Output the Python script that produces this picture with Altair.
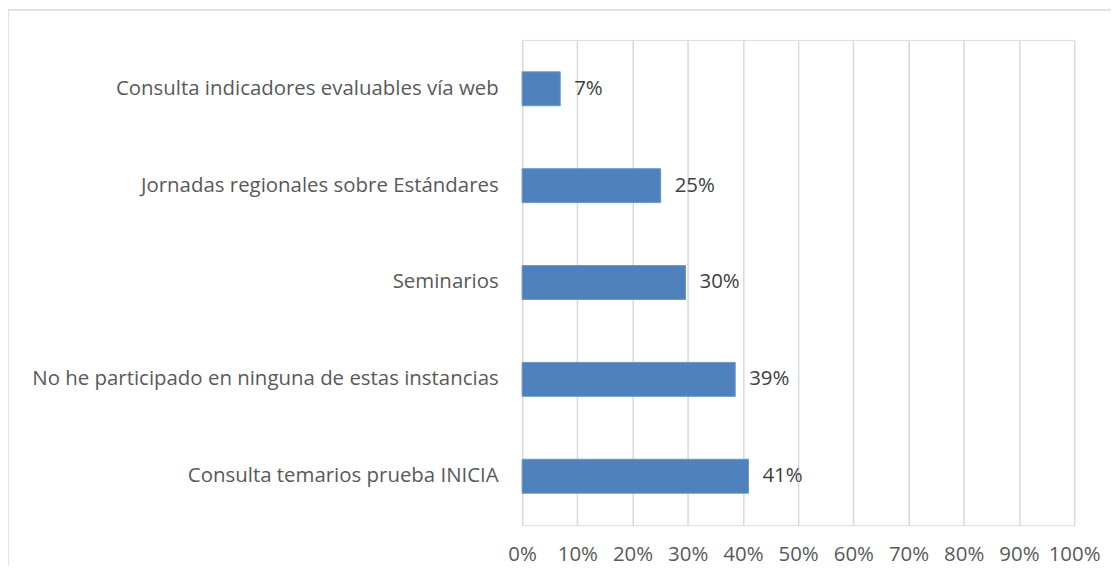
import altair as alt
import pandas as pd

categories = [
    "Consulta indicadores evaluables vía web",
    "Jornadas regionales sobre Estándares",
    "Seminarios",
    "No he participado en ninguna de estas instancias",
    "Consulta temarios prueba INICIA",
]
values = [0.069, 0.251, 0.296, 0.386, 0.410]
labels = ["7%", "25%", "30%", "39%", "41%"]

df = pd.DataFrame({"cat": categories, "val": values, "lab": labels})

FONT = "Open Sans"
FS = 20.5

y_enc = alt.Y("cat:N", sort=categories, title=None,
              scale=alt.Scale(paddingInner=0.65, paddingOuter=0.33),
              axis=alt.Axis(domain=False, ticks=False, labelPadding=24,
                            labelFontSize=FS, labelColor="#595959", labelFont=FONT,
                            labelLimit=600, grid=False))
x_enc = alt.X("val:Q", title=None,
              scale=alt.Scale(domain=[0, 1], nice=False),
              axis=alt.Axis(format=".0%", values=[i / 10 for i in range(11)],
                            domain=False, ticks=False, labelPadding=19,
                            labelOverlap=False, labelFlush=False,
                            labelFontSize=FS, labelColor="#595959", labelFont=FONT,
                            grid=True, gridColor="#d9d9d9", gridWidth=1.5))

frame = alt.Chart(pd.DataFrame({"a": [0]})).mark_rect(
    fill=None, stroke="#d9d9d9", strokeWidth=1.5
).encode(x=alt.value(-516), x2=alt.value(700), y=alt.value(-30), y2=alt.value(700))

bars = alt.Chart(df).mark_bar(color="#4F81BD", stroke="#6a95cc", strokeWidth=1).encode(
    x=x_enc, y=y_enc)

text = alt.Chart(df).mark_text(align="left", dx=14, fontSize=FS, font=FONT,
                               color="#404040").encode(
    x="val:Q", y=alt.Y("cat:N", sort=categories), text="lab:N")

chart = alt.layer(frame, bars, text).properties(
    width=554, height=487,
    autosize=alt.AutoSizeParams(type="none"),
    padding={"left": 516, "top": 31, "right": 37, "bottom": 40},
).configure_view(stroke=None).configure(background="white")

chart.save("out.html", embed_options={"renderer": "svg", "actions": False})
